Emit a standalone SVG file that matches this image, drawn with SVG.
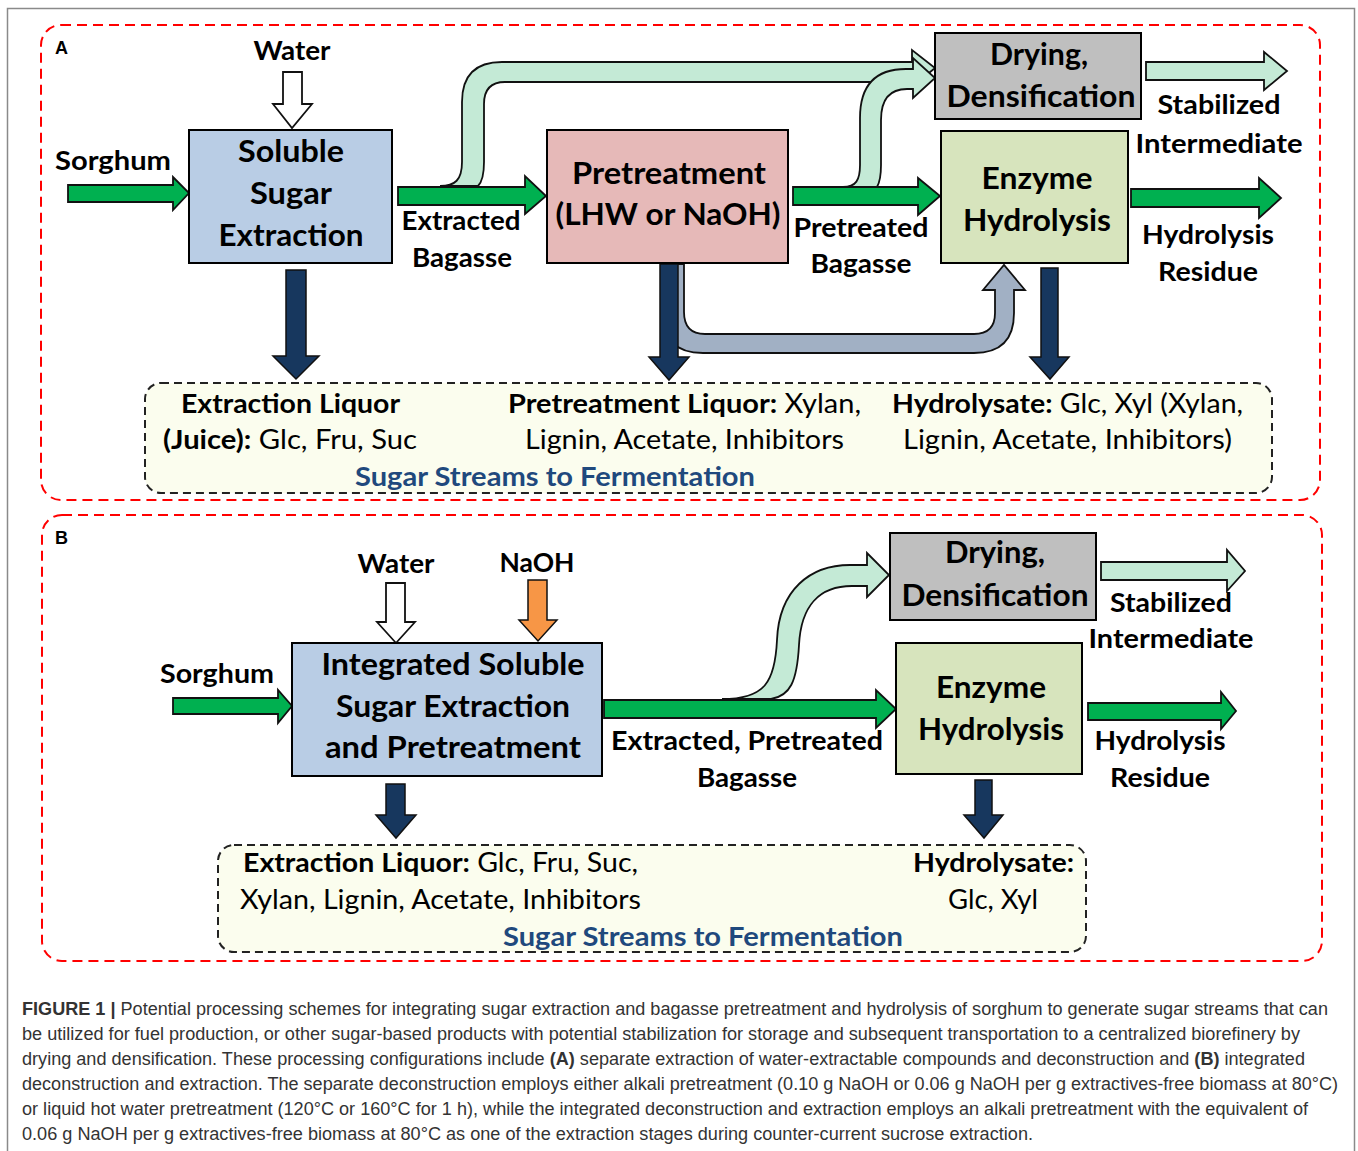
<svg xmlns="http://www.w3.org/2000/svg" width="1358" height="1151" viewBox="0 0 1358 1151">
<style>
.lbl{font-family:Lato,"Open Sans",sans-serif;font-weight:700;font-size:26px;fill:#000;text-anchor:middle}
.box{font-family:Lato,"Open Sans",sans-serif;font-weight:700;font-size:30px;fill:#000;text-anchor:middle}
.txt{font-family:Lato,"Open Sans",sans-serif;font-weight:400;font-size:26px;fill:#000}
.b{font-weight:700}
.sugar{font-family:Lato,"Open Sans",sans-serif;font-weight:700;font-size:26px;fill:#1f497d;text-anchor:middle}
.cap{font-family:"Liberation Sans",Arial,sans-serif;font-size:17.5px;fill:#333}
.panel{fill:none;stroke:#ff0000;stroke-width:2;stroke-dasharray:10 6}
.pool{fill:#fbfdee;stroke:#222;stroke-width:2;stroke-dasharray:8 5}
.node{stroke:#000;stroke-width:2}
.green{fill:#00b050;stroke:#111;stroke-width:1.8;stroke-linejoin:miter}
.lgreen{fill:#c4ead6;stroke:#111;stroke-width:1.8}
.navy{fill:#17375e;stroke:#111;stroke-width:1.5}
.white{fill:#fff;stroke:#111;stroke-width:1.8}
.orange{fill:#f79646;stroke:#111;stroke-width:1.5}
.gblue{fill:#a1b0c4;stroke:#111;stroke-width:1.8}
</style>
<rect x="0" y="0" width="1358" height="1151" fill="#fff"/>
<rect x="7.5" y="8.5" width="1347" height="1160" fill="none" stroke="#8a8a8a" stroke-width="1.5"/>

<!-- Panel frames -->
<rect class="panel" x="41" y="25" width="1279" height="475" rx="20"/>
<rect class="panel" x="42" y="515" width="1280" height="446" rx="20"/>
<text x="55" y="54" style="font-family:'Liberation Sans',Arial,sans-serif;font-weight:700;font-size:18px">A</text>
<text x="55" y="544" style="font-family:'Liberation Sans',Arial,sans-serif;font-weight:700;font-size:18px">B</text>

<!-- Connectors -->
<g id="connectors">
  <!-- Panel A -->
  <path class="lgreen" d="M440,186 C455,186 462,180 462,162 L462,102 Q462,62 502,62 L912,62 L912,50 L935,68 L912,87 L912,82 L505,82 Q484,82 484,104 L484,162 Q484,180 478,186 Z"/>
  <path class="lgreen" d="M843,187 C856,187 860,180 860,165 L860,118 Q860,69 906,69 L913,69 L913,58 L935,78 L913,98 L913,89 L907,89 Q881,89 881,120 L881,165 Q881,180 877,187 Z"/>
  <path class="green" d="M68,185 L173,185 L173,177 L189,193 L173,210 L173,202 L68,202 Z"/>
  <path class="green" d="M398,187 L525,187 L525,176 L546,196 L525,214 L525,205 L398,205 Z"/>
  <path class="green" d="M793,187 L918,187 L918,178 L940,196 L918,215 L918,205 L793,205 Z"/>
  <path class="green" d="M1131,189 L1259,189 L1259,178 L1281,198 L1259,218 L1259,207 L1131,207 Z"/>
  <path class="lgreen" d="M1146,62 L1264,62 L1264,52 L1287,71 L1264,90 L1264,80 L1146,80 Z"/>
  <path class="white" d="M283,72 L302,72 L302,104 L312,104 L292,128 L273,104 L283,104 Z"/>
  <path class="gblue" d="M662,264 L662,312 Q662,353 703,353 L974,353 Q1014,353 1014,313 L1014,290 L1025,290 L1004,265 L983,290 L995,290 L995,313 Q995,334 974,334 L705,334 Q684,334 684,312 L684,264 Z"/>
  <path class="navy" d="M286,270 L306,270 L306,356 L319,356 L296,379 L273,356 L286,356 Z"/>
  <path class="navy" d="M660,264 L678,264 L678,357 L689,357 L669,380 L649,357 L660,357 Z"/>
  <path class="navy" d="M1041,268 L1058,268 L1058,357 L1069,357 L1050,379 L1030,357 L1041,357 Z"/>
  <!-- Panel B -->
  <path class="lgreen" d="M722,699 C765,699 775,682 777,640 C779,590 810,565 850,565 L867,565 L867,553 L889,575 L867,597 L867,586 L852,586 C820,586 801,605 799,645 C797,682 790,696 771,699 Z"/>
  <path class="green" d="M173,698 L278,698 L278,690 L292,706 L278,723 L278,714 L173,714 Z"/>
  <path class="green" d="M604,700 L876,700 L876,690 L896,709 L876,728 L876,718 L604,718 Z"/>
  <path class="green" d="M1088,703 L1221,703 L1221,692 L1236,711 L1221,729 L1221,720 L1088,720 Z"/>
  <path class="lgreen" d="M1101,562 L1227,562 L1227,550 L1245,571 L1227,591 L1227,580 L1101,580 Z"/>
  <path class="white" d="M386,583 L405,583 L405,622 L415,622 L396,643 L377,622 L386,622 Z"/>
  <path class="orange" d="M528,580 L547,580 L547,620 L557,620 L538,641 L519,620 L528,620 Z"/>
  <path class="navy" d="M386,784 L405,784 L405,815 L416,815 L396,838 L376,815 L386,815 Z"/>
  <path class="navy" d="M975,780 L992,780 L992,815 L1003,815 L984,838 L964,815 L975,815 Z"/>
</g>

<!-- Panel A nodes -->
<g id="soluble-sugar-extraction">
  <rect class="node" x="189" y="130" width="203" height="133" fill="#b9cde5"/>
  <text class="box" x="291" y="162" textLength="106" lengthAdjust="spacingAndGlyphs">Soluble</text>
  <text class="box" x="291" y="204" textLength="82" lengthAdjust="spacingAndGlyphs">Sugar</text>
  <text class="box" x="291" y="246" textLength="145" lengthAdjust="spacingAndGlyphs">Extraction</text>
</g>
<g id="pretreatment">
  <rect class="node" x="547" y="130" width="241" height="133" fill="#e6b9b8"/>
  <text class="box" x="669" y="184" textLength="194" lengthAdjust="spacingAndGlyphs">Pretreatment</text>
  <text class="box" x="668" y="225" textLength="225" lengthAdjust="spacingAndGlyphs">(LHW or NaOH)</text>
</g>
<g id="drying-a">
  <rect class="node" x="935" y="33" width="206" height="86" fill="#bfbfbf"/>
  <text class="box" x="1039" y="65" textLength="98" lengthAdjust="spacingAndGlyphs">Drying,</text>
  <text class="box" x="1041" y="107" textLength="189" lengthAdjust="spacingAndGlyphs">Densification</text>
</g>
<g id="enzyme-a">
  <rect class="node" x="941" y="131" width="187" height="132" fill="#d7e4bd"/>
  <text class="box" x="1037" y="189" textLength="111" lengthAdjust="spacingAndGlyphs">Enzyme</text>
  <text class="box" x="1037" y="231" textLength="148" lengthAdjust="spacingAndGlyphs">Hydrolysis</text>
</g>
<g id="labels-a">
  <text class="lbl" x="292" y="60" textLength="77" lengthAdjust="spacingAndGlyphs">Water</text>
  <text class="lbl" x="113" y="170" textLength="116" lengthAdjust="spacingAndGlyphs">Sorghum</text>
  <text class="lbl" x="461" y="230" textLength="119" lengthAdjust="spacingAndGlyphs">Extracted</text>
  <text class="lbl" x="462" y="267" textLength="100" lengthAdjust="spacingAndGlyphs">Bagasse</text>
  <text class="lbl" x="861" y="237" textLength="135" lengthAdjust="spacingAndGlyphs">Pretreated</text>
  <text class="lbl" x="861" y="273" textLength="101" lengthAdjust="spacingAndGlyphs">Bagasse</text>
  <text class="lbl" x="1219" y="114" textLength="123" lengthAdjust="spacingAndGlyphs">Stabilized</text>
  <text class="lbl" x="1219" y="153" textLength="167" lengthAdjust="spacingAndGlyphs">Intermediate</text>
  <text class="lbl" x="1208" y="244" textLength="132" lengthAdjust="spacingAndGlyphs">Hydrolysis</text>
  <text class="lbl" x="1208" y="281" textLength="100" lengthAdjust="spacingAndGlyphs">Residue</text>
</g>
<g id="sugar-streams-a">
  <rect class="pool" x="145" y="383" width="1127" height="110" rx="16"/>
  <text class="txt" x="181" y="413" textLength="219" lengthAdjust="spacingAndGlyphs"><tspan class="b">Extraction Liquor</tspan></text>
  <text class="txt" x="163" y="449" textLength="254" lengthAdjust="spacingAndGlyphs"><tspan class="b">(Juice):</tspan> Glc, Fru, Suc</text>
  <text class="txt" x="508" y="413" textLength="353" lengthAdjust="spacingAndGlyphs"><tspan class="b">Pretreatment Liquor:</tspan> Xylan,</text>
  <text class="txt" x="525" y="449" textLength="319" lengthAdjust="spacingAndGlyphs">Lignin, Acetate, Inhibitors</text>
  <text class="txt" x="892" y="413" textLength="351" lengthAdjust="spacingAndGlyphs"><tspan class="b">Hydrolysate:</tspan> Glc, Xyl (Xylan,</text>
  <text class="txt" x="903" y="449" textLength="329" lengthAdjust="spacingAndGlyphs">Lignin, Acetate, Inhibitors)</text>
  <text class="sugar" x="555" y="486" textLength="400" lengthAdjust="spacingAndGlyphs">Sugar Streams to Fermentation</text>
</g>

<!-- Panel B nodes -->
<g id="integrated">
  <rect class="node" x="292" y="643" width="310" height="133" fill="#b9cde5"/>
  <text class="box" x="453" y="675" textLength="263" lengthAdjust="spacingAndGlyphs">Integrated Soluble</text>
  <text class="box" x="453" y="717" textLength="234" lengthAdjust="spacingAndGlyphs">Sugar Extraction</text>
  <text class="box" x="453" y="758" textLength="256" lengthAdjust="spacingAndGlyphs">and Pretreatment</text>
</g>
<g id="drying-b">
  <rect class="node" x="890" y="533" width="206" height="87" fill="#bfbfbf"/>
  <text class="box" x="995" y="563" textLength="100" lengthAdjust="spacingAndGlyphs">Drying,</text>
  <text class="box" x="995" y="606" textLength="187" lengthAdjust="spacingAndGlyphs">Densification</text>
</g>
<g id="enzyme-b">
  <rect class="node" x="896" y="643" width="186" height="131" fill="#d7e4bd"/>
  <text class="box" x="991" y="698" textLength="110" lengthAdjust="spacingAndGlyphs">Enzyme</text>
  <text class="box" x="991" y="740" textLength="146" lengthAdjust="spacingAndGlyphs">Hydrolysis</text>
</g>
<g id="labels-b">
  <text class="lbl" x="396" y="573" textLength="77" lengthAdjust="spacingAndGlyphs">Water</text>
  <text class="lbl" x="537" y="572" textLength="75" lengthAdjust="spacingAndGlyphs">NaOH</text>
  <text class="lbl" x="217" y="683" textLength="114" lengthAdjust="spacingAndGlyphs">Sorghum</text>
  <text class="lbl" x="747" y="750" textLength="272" lengthAdjust="spacingAndGlyphs">Extracted, Pretreated</text>
  <text class="lbl" x="747" y="787" textLength="100" lengthAdjust="spacingAndGlyphs">Bagasse</text>
  <text class="lbl" x="1171" y="612" textLength="122" lengthAdjust="spacingAndGlyphs">Stabilized</text>
  <text class="lbl" x="1171" y="648" textLength="165" lengthAdjust="spacingAndGlyphs">Intermediate</text>
  <text class="lbl" x="1160" y="750" textLength="131" lengthAdjust="spacingAndGlyphs">Hydrolysis</text>
  <text class="lbl" x="1160" y="787" textLength="100" lengthAdjust="spacingAndGlyphs">Residue</text>
</g>
<g id="sugar-streams-b">
  <rect class="pool" x="218" y="845" width="868" height="107" rx="16"/>
  <text class="txt" x="243" y="872" textLength="395" lengthAdjust="spacingAndGlyphs"><tspan class="b">Extraction Liquor:</tspan> Glc, Fru, Suc,</text>
  <text class="txt" x="240" y="909" textLength="401" lengthAdjust="spacingAndGlyphs">Xylan, Lignin, Acetate, Inhibitors</text>
  <text class="txt b" x="1074" y="872" text-anchor="end" textLength="161" lengthAdjust="spacingAndGlyphs">Hydrolysate:</text>
  <text class="txt" x="993" y="909" text-anchor="middle" textLength="90" lengthAdjust="spacingAndGlyphs">Glc, Xyl</text>
  <text class="sugar" x="703" y="946" textLength="400" lengthAdjust="spacingAndGlyphs">Sugar Streams to Fermentation</text>
</g>

<!-- Caption -->
<g id="caption">
  <text class="cap" x="22" y="1015" textLength="1306" lengthAdjust="spacingAndGlyphs"><tspan font-weight="700">FIGURE 1 |</tspan> Potential processing schemes for integrating sugar extraction and bagasse pretreatment and hydrolysis of sorghum to generate sugar streams that can</text>
  <text class="cap" x="22" y="1040" textLength="1278" lengthAdjust="spacingAndGlyphs">be utilized for fuel production, or other sugar-based products with potential stabilization for storage and subsequent transportation to a centralized biorefinery by</text>
  <text class="cap" x="22" y="1065" textLength="1283" lengthAdjust="spacingAndGlyphs">drying and densification. These processing configurations include <tspan font-weight="700">(A)</tspan> separate extraction of water-extractable compounds and deconstruction and <tspan font-weight="700">(B)</tspan> integrated</text>
  <text class="cap" x="22" y="1090" textLength="1316" lengthAdjust="spacingAndGlyphs">deconstruction and extraction. The separate deconstruction employs either alkali pretreatment (0.10 g NaOH or 0.06 g NaOH per g extractives-free biomass at 80°C)</text>
  <text class="cap" x="22" y="1115" textLength="1286" lengthAdjust="spacingAndGlyphs">or liquid hot water pretreatment (120°C or 160°C for 1 h), while the integrated deconstruction and extraction employs an alkali pretreatment with the equivalent of</text>
  <text class="cap" x="22" y="1140" textLength="1011" lengthAdjust="spacingAndGlyphs">0.06 g NaOH per g extractives-free biomass at 80°C as one of the extraction stages during counter-current sucrose extraction.</text>
</g>
</svg>
